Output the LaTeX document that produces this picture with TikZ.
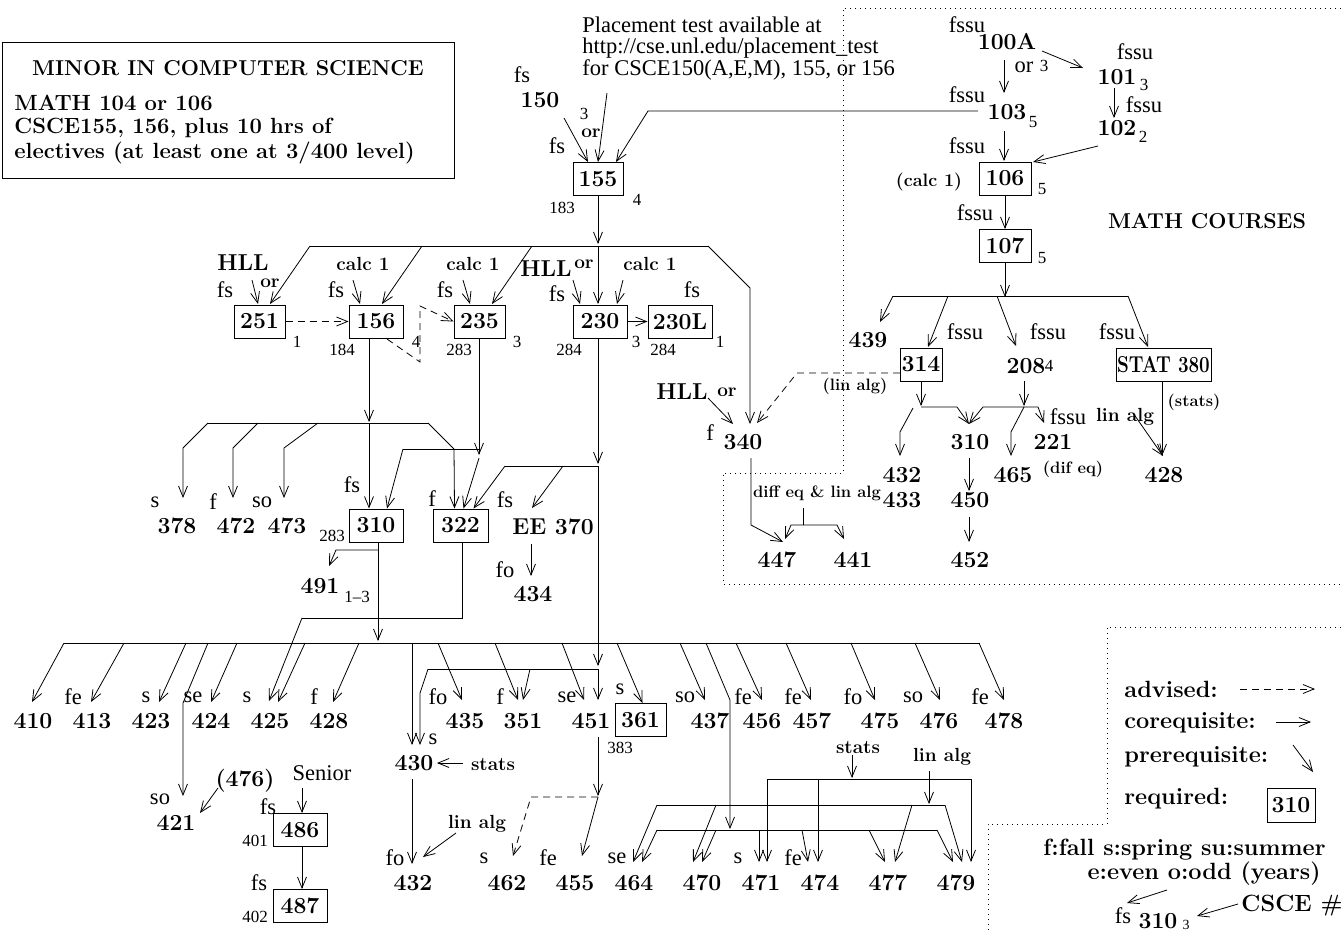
\documentclass[tikz,border=0pt]{standalone}
\usepackage{fontspec}
\newfontfamily\tm{Liberation Serif}
\usetikzlibrary{arrows.meta}
\newcommand{\numf}{\fontsize{23}{25}\selectfont\bfseries}
\newcommand{\hdrf}{\fontsize{21.5}{23}\selectfont\bfseries}
\newcommand{\keyf}{\fontsize{23.5}{25}\selectfont\bfseries}
\newcommand{\semf}{\fontsize{22.5}{24}\selectfont\tm}
\newcommand{\hrsf}{\fontsize{17}{19}\selectfont\tm}
\newcommand{\tagf}{\fontsize{19}{21}\selectfont\bfseries}
\newcommand{\notef}{\fontsize{16.5}{18}\selectfont\bfseries}

\begin{document}
\begin{tikzpicture}[x=1pt,y=-1pt,line width=0.8pt,
  num/.style={font=\numf,inner sep=1pt},
  hdr/.style={font=\hdrf,inner sep=0pt},
  crs/.style={num,draw,line width=1pt,minimum height=33pt,minimum width=52pt,inner xsep=2pt},
  sem/.style={font=\semf,inner sep=0pt},
  hrs/.style={font=\hrsf,inner sep=0pt},
  tag/.style={font=\tagf,inner sep=0pt},
  note/.style={font=\notef,inner sep=0pt},
  key/.style={font=\keyf,inner sep=0pt},
  pre/.style={-{Straight Barb[length=11pt,width=9pt]}},
  adv/.style={pre,dash pattern=on 7pt off 5pt},
  zone/.style={line width=1pt,dash pattern=on 1pt off 4pt}]
\useasboundingbox (0,0) rectangle (1341,932);

% minor box
\node[draw,line width=1pt,minimum width=452pt,minimum height=136pt,inner sep=0pt] (minor) at (228,110) {};
\node[hdr] (minort) at (228,68) {MINOR IN COMPUTER SCIENCE};
\node[hdr,font=\fontsize{22}{24}\selectfont\bfseries,anchor=west] (minor1) at (14,103) {MATH 104 or 106};
\node[hdr,font=\fontsize{22}{24}\selectfont\bfseries,anchor=west] (minor2) at (14,128) {CSCE155, 156, plus 10 hrs of};
\node[hdr,font=\fontsize{22}{24}\selectfont\bfseries,anchor=west] (minor3) at (14,153) {electives (at least one at 3/400 level)};

% placement
\node[sem,anchor=west] (place1) at (582,25) {Placement test available at};
\node[sem,anchor=west] (place2) at (582,48) {http://cse.unl.edu/placement\_test};
\node[sem,anchor=west] (place3) at (582,70) {for CSCE150(A,E,M), 155, or 156};

% 150 / 155
\node[sem] (s150) at (522,75) {fs};
\node[num] (c150) at (540,100) {150};
\node[hrs] (h150) at (584,114) {3};
\node[tag] (or150) at (591,133) {or};
\node[sem] (s155) at (557,146) {fs};
\node[crs,minimum width=50pt] (c155) at (598,179) {155};
\node[hrs] (n155) at (562,208) {183};
\node[hrs] (h155) at (637,200) {4};
\draw[pre] (564,118) -- ([xshift=-10pt]c155.north);
\draw[pre] (607,93) -- (c155.north);
\draw[pre] (978,111) -- (648,111) -- ([xshift=18pt]c155.north);
\draw[pre] (c155.south) -- (598,244);

% bus below 155
\draw (310,246) -- (708,246);
\draw[pre] (310,246) -- (270,304);
\draw[pre] (422,246) -- (382,304);
\draw[pre] (532,246) -- (492,304);
\draw[pre] (598,246) -- (598,304);
\draw[pre] (708,246) -- (750,288) -- (750,424);

% 251
\node[num] (hll251) at (243,263) {HLL};
\node[tag] (or251) at (270,283) {or};
\node[sem] (s251) at (225,290) {fs};
\draw[pre] (252,280) -- (258,304);
\node[crs,minimum width=51pt] (c251) at (259.5,321.5) {251};
\node[hrs] (h251) at (297,342) {1};

% 156
\node[tag] (k156) at (363,264) {calc 1};
\node[sem] (s156) at (336,290) {fs};
\draw[pre] (353,280) -- (360,304);
\node[crs,minimum width=54pt] (c156) at (376,321.5) {156};
\node[hrs] (n156) at (342,350) {184};
\node[hrs] (h156) at (416,342) {4};

% 235
\node[tag] (k235) at (473,264) {calc 1};
\node[sem] (s235) at (445,290) {fs};
\draw[pre] (463,280) -- (470,304);
\node[crs,minimum width=51pt] (c235) at (479.5,321.5) {235};
\node[hrs] (n235) at (459,350) {283};
\node[hrs] (h235) at (517,342) {3};

% 230
\node[num] (hll230) at (546,269) {HLL};
\node[tag] (or230) at (584,264) {or};
\node[sem] (s230) at (557,294) {fs};
\draw[pre] (573,280) -- (580,304);
\node[tag] (k230) at (650,264) {calc 1};
\draw[pre] (623,280) -- (617,304);
\node[crs,minimum width=54pt] (c230) at (600,321.5) {230};
\node[hrs] (n230) at (569,350) {284};
\node[hrs] (h230) at (636,342) {3};
\node[sem] (s230l) at (692,290) {fs};
\node[crs,minimum width=64pt] (c230l) at (680,321.5) {230L};
\node[hrs] (n230l) at (663,350) {284};
\node[hrs] (h230l) at (720,342) {1};
\draw[pre] (c230.east) -- (c230l.west);

% 310 and 322
\node[sem] (s310) at (352,485) {fs};
\node[crs,minimum width=54pt] (c310) at (376,525.5) {310};
\node[hrs] (n310) at (332,536) {283};
\node[sem] (s322) at (432,499) {f};
\node[crs,minimum width=55pt] (c322) at (460.5,525.5) {322};

% 156 down
\draw[pre] (369,338) -- (369,422);
\draw[pre] (369,423) -- ([xshift=-7pt]c310.north);
\draw (208,423) -- (428,423);
\draw[pre] (208,423) -- (183,448) -- (183,498);
\draw[pre] (258,423) -- (233,448) -- (233,498);
\draw[pre] (318,423) -- (284,448) -- (284,498);
\draw[pre] (428,423) -- (454,449) -- ([xshift=-6pt]c322.north);
\node[sem] (s378) at (155,502) {s};
\node[num] (c378) at (177,526) {378};
\node[sem] (s472) at (213,502) {f};
\node[num] (c472) at (236,526) {472};
\node[sem] (s473) at (262,502) {so};
\node[num] (c473) at (287,526) {473};

% 235 down
\draw[pre] (479,338) -- (479,455);
\draw (479,449) -- (403,449);
\draw[pre] (403,449) -- ([xshift=11pt]c310.north);
\draw[pre] (479,458) -- ([xshift=3pt]c322.north);

% 230 down
\draw[pre] (598,338) -- (598,464);
\draw (598,466) -- (505,466);
\draw[pre] (505,466) -- ([xshift=13pt]c322.north);
\draw[pre] (563,466) -- (532,508);
\draw[pre] (598,466) -- (598,666);

\draw[pre] (378,543) -- (378,641);
\draw[pre] (378,550) -- (336,550) -- (329,566);
\node[num] (c491) at (320,586) {491};
\node[hrs] (h491) at (357,597) {1–3};
\draw (462,543) -- (462,618) -- (302,618);
\draw[pre] (302,618) -- (269,701);

% EE 370
\node[sem] (see370) at (505,500) {fs};
\node[num] (cee370) at (553,527) {EE 370};
\draw[pre] (531,544) -- (531,576);
\node[sem] (s434) at (505,570) {fo};
\node[num] (c434) at (533,594) {434};

% 340
\node[num] (hll340) at (682,392) {HLL};
\node[tag] (or340) at (727,392) {or};
\draw[pre] (708,398) -- (733,424);
\node[sem] (s340) at (710,433) {f};
\node[num] (c340) at (743,442) {340};
\draw[adv] (900,373) -- (797,373) -- (757,423);
\draw[pre] (751,458) -- (751,525) -- (783,542);
\node[note] (k447) at (817,493) {diff eq \& lin alg};
\draw (803,508) -- (803,525);
\draw[pre] (803,525) -- (791,525) -- (785,539);
\draw[pre] (803,525) -- (837,525) -- (844,539);
\node[num] (c447) at (777,560) {447};
\node[num] (c441) at (853,560) {441};

% math courses
\draw[zone] (1341,8) -- (843,8) -- (843,473) -- (723,473) -- (723,584) -- (1341,584);
\node[sem] (s100a) at (967,25) {fssu};
\node[num] (c100a) at (1007,42) {100A};
\node[sem] (or100a) at (1024,67) {or};
\node[hrs] (h100a) at (1044,66) {3};
\draw[pre] (1004,60) -- (1004,93);
\draw[pre] (1042,51) -- (1083,68);
\node[sem] (s101) at (1135,52) {fssu};
\node[num] (c101) at (1117,77) {101};
\node[hrs] (h101) at (1144,85) {3};
\draw[pre] (1114,88) -- (1114,118);
\node[sem] (s102) at (1144,105) {fssu};
\node[num] (c102) at (1117,128) {102};
\node[hrs] (h102) at (1143,137) {2};
\node[sem] (s103) at (967,95) {fssu};
\node[num] (c103) at (1007,112) {103};
\node[hrs] (h103) at (1033,122) {5};
\draw[pre] (1004,131) -- (1004,161);
\node[sem] (s106) at (967,146) {fssu};
\draw[pre] (1098,146) -- (1033,162);
\node[crs] (c106) at (1005,178.5) {106};
\node[hrs] (h106) at (1042,189) {5};
\node[tag,font=\fontsize{18}{20}\selectfont\bfseries] (k106) at (929,182) {(calc 1)};
\node[sem] (s107) at (975,213) {fssu};
\node[crs] (c107) at (1005,246) {107};
\draw[pre] (c106.south) -- (c107.north);
\node[hrs] (h107) at (1042,258) {5};
\node[hdr] (mathc) at (1207,221) {MATH COURSES};
\draw[pre] (c107.south) -- (1005,297);
\draw (893,296) -- (1128,296);
\draw[pre] (893,296) -- (880,322);
\node[num] (c439) at (868,340) {439};
\draw[pre] (948,296) -- (928,347);
\draw[pre] (997,296) -- (1016,346);
\draw[pre] (1128,296) -- (1148,347);
\node[sem] (s314) at (965,332) {fssu};
\node[sem] (s208) at (1048,332) {fssu};
\node[sem] (s380) at (1117,332) {fssu};
\node[crs,minimum width=42pt,inner xsep=1pt] (c314) at (921,364.5) {314};
\node[note] (k314) at (855,386) {(lin alg)};
\node[num] (c208) at (1026,366) {208};
\node[hrs] (h208) at (1049,366) {4};
\node[crs,minimum width=95pt,inner xsep=1pt] (c380) at (1163.5,364.5) {\scalebox{0.82}[1]{STAT 380}};
\node[note] (k380) at (1194,402) {(stats)};
\draw[pre] (c314.south) -- (921,406);
\draw[pre] (921,407) -- (957,407) -- (969,424);
\draw[pre] (1024,381) -- (1024,406);
\draw[pre] (1024,407) -- (983,407) -- (969,424);
\draw[pre] (1024,407) -- (1038,407) -- (1044,423);
\draw[pre] (1024,407) -- (1011,432) -- (1011,456);
\draw[pre] (913,408) -- (900,432) -- (900,456);
\node[sem] (s221) at (1068,417) {fssu};
\node[num] (c221) at (1053,442) {221};
\node[note] (k221) at (1073,469) {(dif eq)};
\node[num] (m310) at (970,442) {310};
\draw[pre] (969,458) -- (969,491);
\node[num] (c450) at (970,500) {450};
\draw[pre] (969,517) -- (969,542);
\node[num] (c452) at (970,560) {452};
\node[num] (c432m) at (902,475) {432};
\node[num] (c433) at (902,500) {433};
\node[num] (c465) at (1013,475) {465};
\node[tag] (k428m) at (1125,417) {lin alg};
\draw[pre] (1133,413) -- (1163,456);
\draw[pre] (1162,381) -- (1162,456);
\node[num] (c428m) at (1164,475) {428};

% big bus of electives
\node[crs,minimum width=51pt] (c361) at (640.5,720) {361};
\draw (64,643) -- (980,643);
\draw[pre] (64,643) -- (32,702);
\draw[pre] (124,643) -- (91,702);
\draw[pre] (186,643) -- (159,702);
\draw[pre] (208,643) -- (183,703) -- (183,796);
\draw[pre] (237,643) -- (211,702);
\draw[pre] (305,643) -- (278,702);
\draw[pre] (359,643) -- (333,702);
\draw[pre] (412,643) -- (412,745);
\draw[pre] (438,643) -- (462,700);
\draw[pre] (495,643) -- (518,700);
\draw[pre] (562,643) -- (584,700);
\draw[pre] (617,643) -- ([xshift=2pt]c361.north);
\draw[pre] (680,643) -- (705,700);
\draw[pre] (706,643) -- (730,700) -- (730,829);
\draw[pre] (736,643) -- (762,700);
\draw[pre] (786,643) -- (811,700);
\draw[pre] (851,643) -- (875,700);
\draw[pre] (915,643) -- (940,700);
\draw[pre] (979,643) -- (1004,700);
\draw (598,669) -- (428,669);
\draw[pre] (428,669) -- (420,693) -- (420,745);
\draw[pre] (530,669) -- (523,700);
\draw[pre] (598,669) -- (598,700);

\node[num] (c410) at (33,721) {410};
\node[sem] (s413) at (73,697) {fe};
\node[num] (c413) at (92,721) {413};
\node[sem] (s423) at (146,697) {s};
\node[num] (c423) at (151,721) {423};
\node[sem] (s424) at (193,697) {se};
\node[num] (c424) at (211,721) {424};
\node[sem] (s425) at (247,697) {s};
\node[num] (c425) at (270,721) {425};
\node[sem] (s428) at (314,697) {f};
\node[num] (c428) at (329,721) {428};
\node[sem] (s435) at (438,697) {fo};
\node[num] (c435) at (465,721) {435};
\node[sem] (s351) at (500,697) {f};
\node[num] (c351) at (523,721) {351};
\node[sem] (s451) at (567,697) {se};
\node[num] (c451) at (591,721) {451};
\node[sem] (s361) at (620,689) {s};
\node[hrs] (n361) at (620,748) {383};
\node[sem] (s437) at (685,697) {so};
\node[num] (c437) at (710,721) {437};
\node[sem] (s456) at (743,697) {fe};
\node[num] (c456) at (762,721) {456};
\node[sem] (s457) at (793,697) {fe};
\node[num] (c457) at (812,721) {457};
\node[sem] (s475) at (853,697) {fo};
\node[num] (c475) at (880,721) {475};
\node[sem] (s476) at (913,697) {so};
\node[num] (c476) at (939,721) {476};
\node[sem] (s478) at (980,697) {fe};
\node[num] (c478) at (1004,721) {478};

% 421, 486, 487
\node[sem] (s421) at (160,799) {so};
\node[num] (c421) at (176,823) {421};
\node[num] (p421) at (245,781) {(476)};
\draw[pre] (218,788) -- (200,813);
\node[sem] (senior) at (322,773) {Senior};
\node[sem] (s486) at (268,807) {fs};
\node[crs,minimum width=54pt] (c486) at (300,830) {486};
\node[hrs] (n486) at (255,841) {401};
\node[sem] (s487) at (259,883) {fs};
\node[crs,minimum width=54pt] (c487) at (300,906) {487};
\node[hrs] (n487) at (255,917) {402};
\draw[pre] (302,788) -- ([xshift=2pt]c486.north);
\draw[pre] ([xshift=2pt]c486.south) -- ([xshift=2pt]c487.north);

% 430, 432
\node[sem] (s430) at (433,739) {s};
\node[num] (c430) at (414,763) {430};
\node[tag] (k430) at (493,765) {stats};
\draw[pre] (463,763) -- (437,763);
\draw[pre] (412,779) -- (412,864);
\node[sem] (s432) at (395,858) {fo};
\node[num] (c432) at (413,883) {432};
\node[tag] (k432) at (477,824) {lin alg};
\draw[pre] (456,833) -- (423,857);

% 451 down
\draw[pre] (598,737) -- (598,796);
\draw[adv] (598,797) -- (531,797) -- (513,856);
\draw[pre] (598,797) -- (582,856);
\node[sem] (s462) at (484,858) {s};
\node[num] (c462) at (507,883) {462};
\node[sem] (s455) at (548,858) {fe};
\node[num] (c455) at (575,883) {455};

% 464 .. 479
\node[tag] (k471) at (858,748) {stats};
\draw[pre] (852,755) -- (852,778);
\draw (767,779) -- (971,779);
\draw[pre] (767,779) -- (767,862);
\draw[pre] (818,779) -- (818,862);
\draw[pre] (971,779) -- (971,862);
\node[tag] (k477) at (942,757) {lin alg};
\draw[pre] (929,771) -- (929,804);
\draw (657,805) -- (945,805);
\draw[pre] (657,805) -- (633,862);
\draw[pre] (716,805) -- (693,862);
\draw[pre] (912,805) -- (895,862);
\draw[pre] (945,805) -- (962,862);
\draw (657,830) -- (937,830);
\draw[pre] (657,830) -- (642,862);
\draw[pre] (716,830) -- (702,862);
\draw[pre] (759,830) -- (759,862);
\draw[pre] (802,830) -- (808,862);
\draw[pre] (869,830) -- (885,862);
\draw[pre] (937,830) -- (953,862);
\node[sem] (s464) at (617,858) {se};
\node[num] (c464) at (634,883) {464};
\node[num] (c470) at (702,883) {470};
\node[sem] (s471) at (738,858) {s};
\node[num] (c471) at (761,883) {471};
\node[sem] (s474) at (793,858) {fe};
\node[num] (c474) at (820,883) {474};
\node[num] (c477) at (888,883) {477};
\node[num] (c479) at (956,883) {479};

% advised links
\draw[adv] (c251.east) -- (c156.west);
\draw[adv] (387,339) -- (420,362) -- (420,306) -- (c235.west);

% legend
\draw[zone] (1341,627) -- (1107,627) -- (1107,824) -- (988,824) -- (988,932);
\node[key,anchor=west] (kadv) at (1124,689) {advised:};
\draw[adv] (1240,689) -- (1315,689);
\node[key,anchor=west] (kco) at (1124,723) {corequisite:};
\draw[pre] (1276,722) -- (1311,722);
\node[key,anchor=west] (kpre) at (1124,757) {prerequisite:};
\draw[pre] (1293,745) -- (1313,772);
\node[key,anchor=west] (kreq) at (1124,799) {required:};
\node[crs,minimum width=48pt,minimum height=34pt,inner xsep=1pt] (k310) at (1291,805) {310};
\node[key,anchor=east] (kterm1) at (1326,850) {f:fall s:spring su:summer};
\node[key,anchor=east] (kterm2) at (1321,874) {e:even o:odd (years)};
\node[sem] (ks310) at (1123,916) {fs};
\node[num] (kc310) at (1158,921) {310};
\node[hrs,font=\fontsize{14}{15}\selectfont\tm] (kh310) at (1186,925) {3};
\node[key] (kcsce) at (1292,906) {CSCE \#};
\draw[pre] (1167,890) -- (1127,903);
\draw[pre] (1238,904) -- (1197,916);
\end{tikzpicture}
\end{document}
